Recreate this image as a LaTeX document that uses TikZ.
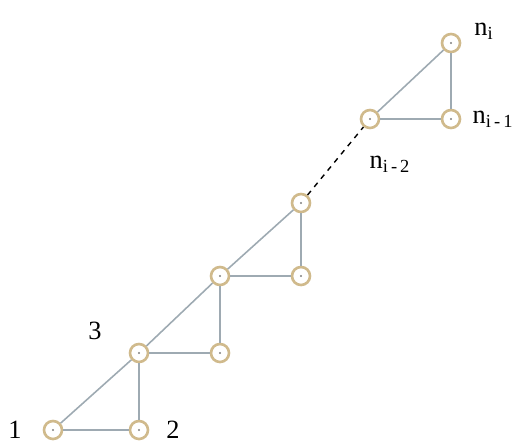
\documentclass[tikz,border=0pt]{standalone}
\usepackage{fontspec}
\setmainfont{Liberation Serif}
\usepackage{xcolor}
\usepackage{tikz}
\usetikzlibrary{positioning}

\definecolor{ringcol}{RGB}{208,186,140}
\definecolor{edgecol}{RGB}{158,170,178}

\tikzset{
    vertex/.style={circle, draw=ringcol, line width=1.5pt, fill=white,
        minimum size=0.36cm, inner sep=0pt,
        path picture={\fill[gray] (path picture bounding box.center) circle (0.6pt);}},
    link/.style={draw=edgecol, line width=0.9pt},
    tag/.style={font=\fontsize{15}{17}\selectfont}
}

\begin{document}
\begin{tikzpicture}[on grid, auto]
        \useasboundingbox (-1.06,-0.28) rectangle (9.22,8.6);

        \node[vertex] (v1) at (0,0) {};
        \node[vertex] (v2) [right=1.72cm of v1] {};
        \node[vertex] (v3) [above=1.54cm of v2] {};
        \node[vertex] (v4) [right=1.62cm of v3] {};
        \node[vertex] (v5) [above=1.54cm of v4] {};
        \node[vertex] (v6) [right=1.62cm of v5] {};
        \node[vertex] (v7) [above=1.46cm of v6] {};
        \node[vertex] (a) [above right=1.68cm and 1.38cm of v7] {};
        \node[vertex] (b) [right=1.62cm of a] {};
        \node[vertex] (c) [above=1.52cm of b] {};

        % labels
        \node[tag] (l1) [left=0.76cm of v1] {1};
        \node[tag] (l2) [right=0.68cm of v2] {2};
        \node[tag] (l3) [above left=0.44cm and 0.88cm of v3] {3};
        \node[tag] (la) [below right=0.9cm and 0.4cm of a] {n\textsubscript{i\,-\,2}};
        \node[tag] (lb) [right=0.84cm of b] {n\textsubscript{i\,-\,1}};
        \node[tag] (lc) [above right=0.24cm and 0.66cm of c] {n\textsubscript{i}};

        \path[link]
        (v1) edge (v2)
        (v1) edge (v3)
        (v2) edge (v3)
        (v3) edge (v4)
        (v3) edge (v5)
        (v4) edge (v5)
        (v5) edge (v6)
        (v5) edge (v7)
        (v6) edge (v7)
        (a) edge (b)
        (a) edge (c)
        (b) edge (c);

        \draw[dash pattern=on 3pt off 3pt, line width=0.8pt] (v7) -- (a);

    \end{tikzpicture}
\end{document}
